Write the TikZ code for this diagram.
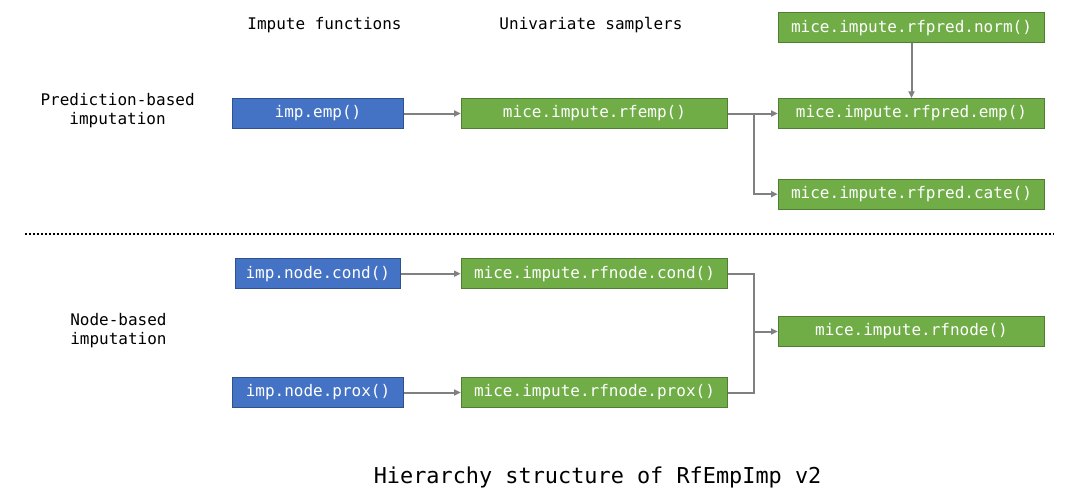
\documentclass[tikz,border=0pt]{standalone}
\usepackage{fontspec}
\setmainfont{DejaVu Sans Mono}
\usetikzlibrary{arrows.meta}
\colorlet{impblue}{rgb,255:red,68;green,114;blue,196}
\colorlet{impblueline}{rgb,255:red,47;green,82;blue,143}
\colorlet{micegreen}{rgb,255:red,112;green,173;blue,71}
\colorlet{micegreenline}{rgb,255:red,80;green,126;blue,50}
\colorlet{link}{black!50}

\begin{document}
\begin{tikzpicture}[
            x=0.75pt, y=-0.75pt,
            every node/.append style={font=\fontsize{12}{14.7}\selectfont},
            impbox/.style={draw=impblueline,fill=impblue,text=white,line width=0.7pt,
                inner sep=0pt,minimum height=22.5pt,minimum width=128pt},
            micebox/.style={draw=micegreenline,fill=micegreen,text=white,line width=0.7pt,
                inner sep=0pt,minimum height=22.5pt,minimum width=200pt},
            conn/.style={link,line width=1.5pt,-{Triangle[length=5pt,width=4.5pt]}}
        ]
            \useasboundingbox (0,0) rectangle (1077,501);
            \node (hdimp) at (324.5,24.8) {Impute functions};
            \node (hdmice) at (591,24.8) {Univariate samplers};
            \node [align=center] (predlabel) at (117.6,110.7) {Prediction-based\\imputation};
            \node [align=left,anchor=west,inner sep=0pt] (nodelabel) at (70,330.7) {Node-based\\imputation};
            \node [impbox] (impemp) at (318,113.5) {imp.emp()};
            \node [micebox] (rfemp) at (594.5,113.5) {mice.impute.rfemp()};
            \node [micebox] (prednorm) at (911.5,27.8) {mice.impute.rfpred.norm()};
            \node [micebox] (predemp) at (911.5,113.5) {mice.impute.rfpred.emp()};
            \node [micebox] (predcate) at (911.5,194.2) {mice.impute.rfpred.cate()};
            \draw [line width=1.5pt,dash pattern=on 1.5pt off 1.5pt] (24.8,233.8) -- (1054,233.8);
            \node [impbox,minimum width=124pt] (impcond) at (317.8,273.7) {imp.node.cond()};
            \node [impbox] (impprox) at (318,392.5) {imp.node.prox()};
            \node [micebox] (rfcond) at (594.5,273.7) {mice.impute.rfnode.cond()};
            \node [micebox] (rfprox) at (594.5,392.5) {mice.impute.rfnode.prox()};
            \node [micebox] (rfnode) at (911.5,331.5) {mice.impute.rfnode()};
            \node [anchor=center,font=\fontsize{16.4}{20}\selectfont] (title) at (597.6,477.5)
                {Hierarchy structure of RfEmpImp v2};
            \coordinate (predsplit) at (753.5,113.5);
            \coordinate (nodejoin) at (753.5,331.5);
            \draw [conn] (impemp) -- (rfemp);
            \draw [conn] (rfemp.east) -- (predemp.west);
            \draw [conn] (predsplit) |- (predcate.west);
            \draw [conn] (prednorm) -- (predemp);
            \draw [conn] (impcond) -- (rfcond);
            \draw [conn] (impprox) -- (rfprox);
            \draw [link,line width=1.5pt] (rfcond.east) -| (nodejoin);
            \draw [link,line width=1.5pt] (rfprox.east) -| (nodejoin);
            \draw [conn] (nodejoin) -- (rfnode.west);
        \end{tikzpicture}
\end{document}
